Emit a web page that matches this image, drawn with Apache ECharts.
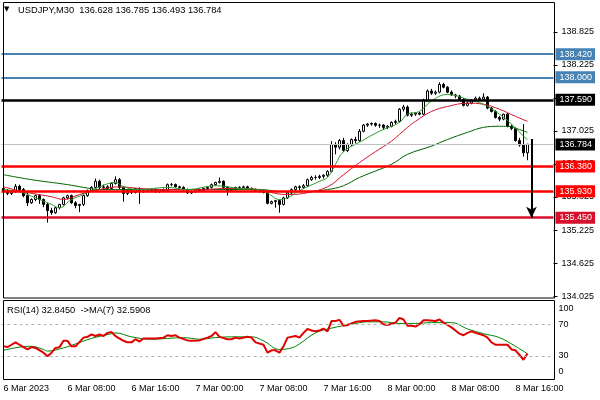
<!DOCTYPE html>
<html><head><meta charset="utf-8">
<script src="https://cdn.jsdelivr.net/npm/echarts@6/dist/echarts.min.js"></script>
<style>html,body{margin:0;padding:0;background:#fff}#c{width:600px;height:400px}</style>
</head><body><div id="c"></div>
<script>
const titleText = 'USDJPY,M30  136.628 136.785 136.493 136.784';
const rsiText = 'RSI(14) 32.8450  ->MA(7) 32.5908';
const timeLabels = ['6 Mar 2023','6 Mar 08:00','6 Mar 16:00','7 Mar 00:00','7 Mar 08:00','7 Mar 16:00','8 Mar 00:00','8 Mar 08:00','8 Mar 16:00'];
const slotCount = 138; // 132 bars + empty right margin
const priceTicks = [134.025,134.625,135.225,135.825,136.425,137.025,137.625,138.225,138.825];
const rsiTicks = [0,30,70,100];
const rsiLevels = [30,70];
const levelValues = [138.420,138.000,137.590,136.380,135.930,135.450];
const bidPrice = 136.784;
const arrowBar = 132, arrowFrom = 136.88, arrowTo = 135.45;

const opens = [135.98,135.94,135.89,135.92,136.02,135.96,135.85,135.72,135.78,135.85,
 135.78,135.69,135.58,135.54,135.63,135.69,135.81,135.85,135.72,135.67,
 135.69,135.85,135.94,136.00,136.11,136.00,136.01,135.98,136.07,136.14,
 136.00,135.89,135.94,135.91,135.98,135.92,135.94,135.94,135.96,135.92,
 135.96,135.94,136.05,136.05,136.01,136.00,135.96,135.90,135.92,135.96,
 135.94,135.98,136.00,136.05,136.09,136.11,136.00,135.94,135.96,136.00,
 136.00,136.01,135.98,135.96,135.94,135.92,135.91,135.71,135.74,135.76,
 135.69,135.81,135.90,135.96,136.01,136.00,136.03,136.14,136.18,136.18,
 136.20,136.22,136.29,136.78,136.73,136.85,136.67,136.78,136.87,136.85,
 137.02,137.13,137.15,137.16,137.13,137.13,137.09,137.11,137.18,137.20,
 137.42,137.46,137.31,137.33,137.35,137.33,137.58,137.75,137.71,137.73,
 137.87,137.82,137.73,137.68,137.66,137.60,137.49,137.53,137.58,137.62,
 137.60,137.64,137.44,137.38,137.27,137.24,137.33,137.11,137.07,136.85,
 136.77,136.628];
const closes = [135.94,135.89,135.92,136.02,135.96,135.85,135.72,135.78,135.85,135.78,
 135.69,135.58,135.54,135.63,135.69,135.81,135.85,135.72,135.67,135.69,
 135.85,135.94,136.00,136.11,136.00,136.01,135.98,136.07,136.14,136.00,
 135.89,135.94,135.91,135.98,135.92,135.94,135.94,135.96,135.92,135.96,
 135.94,136.05,136.05,136.01,136.00,135.96,135.90,135.92,135.96,135.94,
 135.98,136.00,136.05,136.09,136.11,136.00,135.94,135.96,136.00,136.00,
 136.01,135.98,135.96,135.94,135.92,135.91,135.71,135.74,135.76,135.69,
 135.81,135.90,135.96,136.01,136.00,136.03,136.14,136.18,136.18,136.20,
 136.22,136.29,136.78,136.73,136.85,136.67,136.78,136.87,136.85,137.02,
 137.13,137.15,137.16,137.13,137.13,137.09,137.11,137.18,137.20,137.42,
 137.46,137.31,137.33,137.35,137.33,137.58,137.75,137.71,137.73,137.87,
 137.82,137.73,137.68,137.66,137.60,137.49,137.53,137.58,137.62,137.60,
 137.64,137.44,137.38,137.27,137.24,137.33,137.11,137.07,136.85,136.77,
 136.628,136.784];
const highs = [136.01,135.97,135.95,136.06,136.05,135.99,135.90,135.80,135.87,135.87,
 135.80,135.72,135.63,135.65,135.70,135.83,135.87,135.87,135.75,135.70,
 135.86,135.96,136.02,136.16,136.14,136.05,136.04,136.09,136.20,136.17,
 136.02,135.96,135.96,135.99,136.00,135.96,135.97,135.98,135.98,135.97,
 135.98,136.07,136.08,136.07,136.03,136.02,135.98,135.94,135.97,135.98,
 135.99,136.02,136.07,136.10,136.18,136.13,136.02,135.98,136.01,136.02,
 136.03,136.03,136.00,135.98,135.97,135.95,135.93,135.76,135.77,135.78,
 135.83,135.92,135.98,136.03,136.04,136.06,136.16,136.21,136.22,136.23,
 136.24,136.31,136.84,136.82,136.88,136.90,136.80,136.89,136.92,137.06,
 137.15,137.17,137.18,137.18,137.16,137.15,137.13,137.20,137.23,137.44,
 137.50,137.49,137.36,137.37,137.37,137.61,137.78,137.79,137.76,137.91,
 137.90,137.84,137.76,137.70,137.68,137.62,137.56,137.60,137.65,137.65,
 137.71,137.66,137.46,137.40,137.30,137.34,137.35,137.14,137.09,136.90,
 137.15,136.785];
const lows = [135.90,135.86,135.86,135.90,135.93,135.82,135.66,135.70,135.75,135.70,
 135.64,135.36,135.50,135.52,135.60,135.67,135.78,135.70,135.62,135.55,
 135.66,135.83,135.92,135.98,135.97,135.95,135.95,135.96,136.05,135.97,
 135.74,135.86,135.88,135.89,135.70,135.90,135.91,135.91,135.90,135.90,
 135.91,135.92,136.02,136.00,135.98,135.94,135.88,135.88,135.90,135.92,
 135.92,135.95,135.98,136.03,136.07,135.98,135.85,135.92,135.94,135.97,
 135.98,135.96,135.94,135.92,135.91,135.89,135.69,135.69,135.63,135.54,
 135.67,135.79,135.88,135.94,135.95,135.97,136.01,136.12,136.14,136.15,
 136.16,136.19,136.27,136.60,136.69,136.64,136.64,136.75,136.80,136.83,
 137.00,137.10,137.12,137.10,137.08,137.05,137.06,137.09,137.15,137.18,
 137.38,137.29,137.28,137.30,137.31,137.31,137.56,137.68,137.68,137.71,
 137.80,137.71,137.66,137.62,137.58,137.47,137.47,137.51,137.56,137.57,
 137.58,137.42,137.36,137.25,137.20,137.22,137.09,137.04,136.83,136.74,
 136.56,136.493];

// moving averages: [bar, price]
const maFast = [[0,135.96],[4,135.92],[8,135.81],[12,135.69],[14,135.63],[17,135.78],[20,135.87],[24,136.01],[28,136.09],[30,136.01],[34,135.96],[41,136.00],[46,135.96],[53,136.03],[59,135.98],[64,135.96],[66,135.90],[69,135.78],[71,135.81],[74,135.94],[79,136.11],[81,136.18],[83,136.42],[85,136.65],[89,136.82],[94,137.02],[99,137.18],[101,137.33],[104,137.38],[107,137.57],[111,137.69],[116,137.60],[120,137.51],[124,137.33],[127,137.15],[130,136.93],[131,136.87]];
const maMid = [[0,136.01],[5,135.92],[12,135.83],[15,135.78],[19,135.87],[24,135.96],[29,136.01],[34,135.98],[41,135.96],[49,135.96],[56,135.98],[64,135.96],[68,135.89],[71,135.87],[75,135.89],[81,136.01],[85,136.23],[89,136.45],[93,136.65],[97,136.84],[101,137.09],[103,137.20],[107,137.38],[111,137.47],[116,137.53],[120,137.51],[124,137.42],[128,137.29],[131,137.20]];
const maSlow = [[0,136.23],[7,136.14],[16,136.05],[20,136.00],[24,135.96],[32,135.96],[41,135.96],[49,135.96],[56,135.96],[64,135.96],[70,135.92],[75,135.92],[81,135.96],[85,136.03],[89,136.18],[97,136.42],[101,136.60],[107,136.75],[111,136.87],[116,137.00],[120,137.09],[124,137.11],[126,137.11],[129,137.05],[131,137.00]];

// RSI(14) and its MA(7): [bar, value]
const rsi = [[0,42],[1,41],[2,44],[3,47],[4,44],[5,41],[6,38],[7,41],[8,40],[10,34],[11,29.5],[12,34],[13,40],[14,41],[15,49],[16,49],[17,42],[18,42],[20,53],[21,54],[22,57],[23,55],[24,57],[25,55],[26,59],[27,60],[28,55],[30,49],[31,47],[32,47],[33,51],[34,48],[35,52],[36,52],[38,52],[40,53],[41,56],[42,55],[43,56],[44,53],[46,49.5],[47,49],[49,49.5],[51,53],[52,55],[53,60],[54,54],[56,51],[57,51],[58,53],[59,52],[61,54],[62,53],[63,47],[65,44],[66,34],[67,37],[68,37],[69,34],[70,42],[71,53],[73,55],[74,53],[75,59],[76,64],[77,62],[78,61],[79,62],[80,64.5],[81,61],[82,74],[83,74],[84,75.5],[85,68],[86,69],[87,71],[88,73],[90,74],[91,74],[93,75],[94,74],[95,70],[96,69],[98,72],[99,78],[100,76],[101,68],[102,68],[103,67],[104,70],[105,75],[106,75],[108,74],[109,76],[110,72],[111,69],[112,66],[113,62],[114,58],[115,56],[116,59],[117,61],[118,59],[120,56],[121,53],[122,47],[123,44],[124,44],[126,44],[127,38],[128,37],[129,31],[130,25],[131,32.845]];
const rsiMa = [[0,37],[4,41],[7,42],[10,38],[11,36],[15,40],[18,45],[22,52],[27,58],[28,59],[32,54],[37,51],[41,52],[45,53],[49,51],[53,53],[57,54],[62,54],[65,49],[69,38],[72,40],[74,45],[78,59],[82,65],[87,70],[91,73],[95,73],[99,71],[103,71],[107,72],[112,72],[116,64],[120,58],[124,53],[128,42],[131,32.591]];

const FONT = 'Liberation Sans';
const categories = Array.from({length: slotCount}, (_, i) => String(i));
const candleData = opens.map((o, i) => [o, closes[i], lows[i], highs[i]]);
const levelColors = ['#4682b4','#4682b4','#000000','#ff0000','#ff0000','#d8102c'];
const levelWidths = [2,2,2.5,2.5,2.5,2.5];
const boxLabel = (text, bg) => ({show: true, position: 'end', distance: 2, formatter: text, backgroundColor: bg, color: '#fff',
  padding: [2, 3, 1, 4], fontSize: 9, fontFamily: FONT});

const chart = echarts.init(document.getElementById('c'), null, {renderer: 'canvas'});
chart.setOption({
  animation: false,
  backgroundColor: '#fff',
  textStyle: {fontFamily: FONT},
  title: [
    {text: titleText, left: 18, top: 6, padding: 0, textStyle: {fontSize: 9.3, fontWeight: 'normal', color: '#000', fontFamily: FONT}},
    {text: rsiText, left: 7, top: 306, padding: 0, textStyle: {fontSize: 9.3, fontWeight: 'normal', color: '#000', fontFamily: FONT}}
  ],
  grid: [
    {left: 1.5, width: 552, top: 3, height: 295},
    {left: 1.5, width: 552, top: 300.5, height: 79}
  ],
  xAxis: [
    {type: 'category', gridIndex: 0, data: categories, boundaryGap: true,
     axisLine: {show: false}, axisTick: {show: false}, axisLabel: {show: false}, splitLine: {show: false}},
    {type: 'category', gridIndex: 1, data: categories, boundaryGap: true,
     axisLine: {show: false}, axisTick: {show: false}, splitLine: {show: false},
     axisLabel: {show: true, interval: 15, align: 'left', margin: 5, fontSize: 9, color: '#000', fontFamily: FONT,
       formatter: (v, idx) => (idx % 16 === 0 && timeLabels[idx / 16]) ? timeLabels[idx / 16] : ''}}
  ],
  yAxis: [
    {type: 'value', gridIndex: 0, position: 'right', min: 133.99, max: 139.35, z: 0,
     axisLine: {show: false}, splitLine: {show: false},
     axisTick: {show: true, length: 4, customValues: priceTicks, lineStyle: {color: '#000'}},
     axisLabel: {customValues: priceTicks, formatter: v => v.toFixed(3), fontSize: 9, color: '#000', margin: 8, fontFamily: FONT}},
    {type: 'value', gridIndex: 1, position: 'right', min: 0, max: 100, z: 0,
     axisLine: {show: false}, splitLine: {show: false},
     axisTick: {show: false},
     axisLabel: {customValues: rsiTicks, fontSize: 9, color: '#000', margin: 5, fontFamily: FONT,
       formatter: v => v === 100 ? '{a|100}' : (v === 0 ? '{b|0}' : String(v)),
       rich: {a: {padding: [17, 0, 0, 0], fontSize: 9, fontFamily: FONT}, b: {padding: [0, 0, 15, 0], fontSize: 9, fontFamily: FONT}}}}
  ],
  series: [
    {type: 'line', xAxisIndex: 0, yAxisIndex: 0, data: [], z: 1, silent: true,
     markLine: {silent: true, symbol: ['none', 'none'], animation: false,
       data: [{yAxis: bidPrice, lineStyle: {color: '#c0c0c0', width: 1, type: 'solid'}, label: boxLabel(bidPrice.toFixed(3), '#000')}]}},
    {type: 'candlestick', xAxisIndex: 0, yAxisIndex: 0, data: candleData, barWidth: 3, z: 2,
     itemStyle: {color: '#fff', color0: '#000', borderColor: '#000', borderColor0: '#000', borderWidth: 1}},
    {type: 'line', xAxisIndex: 0, yAxisIndex: 0, data: maSlow, showSymbol: false, smooth: 0.4, z: 3,
     lineStyle: {color: '#006400', width: 1}},
    {type: 'line', xAxisIndex: 0, yAxisIndex: 0, data: maMid, showSymbol: false, smooth: 0.4, z: 3,
     lineStyle: {color: '#d0142c', width: 1}},
    {type: 'line', xAxisIndex: 0, yAxisIndex: 0, data: maFast, showSymbol: false, smooth: 0.4, z: 3,
     lineStyle: {color: '#2e9a2e', width: 1}},
    {type: 'line', xAxisIndex: 0, yAxisIndex: 0, data: [], z: 5, silent: true,
     markLine: {silent: true, symbol: ['none', 'none'], animation: false,
       data: levelValues.map((v, k) => ({yAxis: v, lineStyle: {color: levelColors[k], width: levelWidths[k], type: 'solid'},
         label: boxLabel(v.toFixed(3), levelColors[k])}))
         .concat([[{coord: [arrowBar, arrowFrom], symbol: 'none', lineStyle: {color: '#000', width: 2, type: 'solid'}, label: {show: false}},
                   {coord: [arrowBar, arrowTo], symbol: 'arrow', symbolSize: [8, 11]}]])}},
    {type: 'line', xAxisIndex: 1, yAxisIndex: 1, data: rsiMa, showSymbol: false, smooth: 0.4, z: 3,
     lineStyle: {color: '#008000', width: 1},
     markLine: {silent: true, symbol: ['none', 'none'], animation: false, label: {show: false},
       data: rsiLevels.map(v => ({yAxis: v, lineStyle: {color: '#b4b4b4', width: 1, type: [3, 3]}}))}},
    {type: 'line', xAxisIndex: 1, yAxisIndex: 1, data: rsi, showSymbol: false, z: 4,
     lineStyle: {color: '#e00000', width: 2}}
  ],
  graphic: [
    {type: 'text', left: 4, top: 6, style: {text: '▼', fontSize: 7, fill: '#000', fontFamily: 'DejaVu Sans'}, z: 100},
    {type: 'rect', shape: {x: 3.5, y: 2.5, width: 551, height: 295.5}, style: {fill: 'none', stroke: '#000', lineWidth: 1}, z: 100, silent: true},
    {type: 'rect', shape: {x: 3.5, y: 300.5, width: 551, height: 79}, style: {fill: 'none', stroke: '#000', lineWidth: 1}, z: 100, silent: true}
  ]
});
</script></body></html>
